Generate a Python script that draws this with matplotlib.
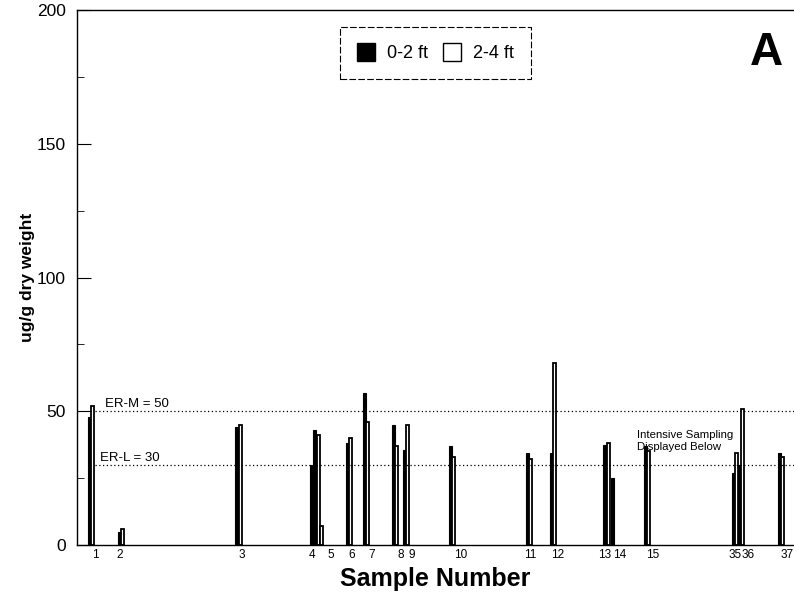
import matplotlib.pyplot as plt
from matplotlib.patches import Patch

plt.rcParams['font.family'] = ['Liberation Sans', 'DejaVu Sans']

# sample labels along the transect and where they sit (distance units)
sample_labels = ["1", "2", "3", "4", "5", "6", "7", "8", "9", "10",
                 "11", "12", "13", "14", "15", "35", "36", "37"]
label_pos = [18, 43, 165, 235, 254, 275, 295, 324, 335, 384,
             453, 481, 528, 543, 576, 658, 671, 710]

# 0-2 ft cores
shallow_x = [12, 42, 159, 234, 237, 270, 287, 316, 327, 373, 450, 474, 527, 535, 568, 656, 662, 702]
shallow_val = [48, 5, 44, 30, 43, 38, 57, 45, 35.5, 37, 34.5, 34.5, 37.5, 25, 37, 27, 30, 34.5]

# 2-4 ft cores
deep_x = [15, 45, 163, 241, 244, 273, 290, 319, 330, 376, 453, 477, 531, 571, 659, 665, 705]
deep_val = [52, 6, 45, 41, 7, 40, 46, 37, 45, 33, 32, 68, 38, 35, 34.5, 51, 33]

erm = 50
erl = 30

fig = plt.figure(figsize=(7.94, 5.97), dpi=100)
ax = fig.add_axes([0.097, 0.0871, 0.903, 0.896])

ax.bar(shallow_x, shallow_val, width=3, color="black", edgecolor="black", linewidth=0.8)
ax.bar(deep_x, deep_val, width=3, color="white", edgecolor="black", linewidth=1.3)

# sediment guideline levels
ax.plot([18, 717], [erm, erm], color="black", linestyle=(0, (1, 2)), linewidth=0.9)
ax.plot([18, 717], [erl, erl], color="black", linestyle=(0, (1, 2)), linewidth=0.9)
ax.text(28, erm + 1.5, "ER-M = 50", fontsize=9.5)
ax.text(23, erl + 1.5, "ER-L = 30", fontsize=9.5)
ax.text(560, 35.5, "Intensive Sampling\nDisplayed Below", fontsize=8.2, linespacing=1.3)

ax.set_xlim(0, 717)
ax.set_ylim(0, 200)
ax.set_yticks([0, 50, 100, 150, 200])
ax.set_yticks([25, 75, 125, 175], minor=True)
ax.tick_params(axis="y", which="major", direction="in", length=10, labelsize=12.5, pad=8)
ax.tick_params(axis="y", which="minor", direction="in", length=5)
ax.set_xticks(label_pos)
ax.set_xticklabels(sample_labels, fontsize=8.5)
ax.tick_params(axis="x", length=0, pad=3)

ax.spines["right"].set_visible(False)
for s in ["left", "top", "bottom"]:
    ax.spines[s].set_linewidth(1)

ax.set_ylabel("ug/g dry weight", fontsize=12.5, fontweight="bold", labelpad=1)
ax.set_xlabel("Sample Number", fontsize=18, fontweight="bold", labelpad=4)

handles = [Patch(facecolor="black", edgecolor="black", label="0-2 ft"),
           Patch(facecolor="white", edgecolor="black", label="2-4 ft")]
leg = ax.legend(handles=handles, ncol=2, loc="center", bbox_to_anchor=(0.5, 0.92),
                fontsize=13, fancybox=False, edgecolor="black", framealpha=1,
                handlelength=1.0, handleheight=1.1, columnspacing=0.8,
                borderpad=0.9, handletextpad=0.7, borderaxespad=0)
leg.get_frame().set_linestyle((0, (6, 2)))
leg.get_frame().set_linewidth(0.8)

ax.text(0.962, 0.92, "A", transform=ax.transAxes, fontsize=33, fontweight="bold",
        ha="center", va="center")

fig.savefig("out.png", dpi=100)
